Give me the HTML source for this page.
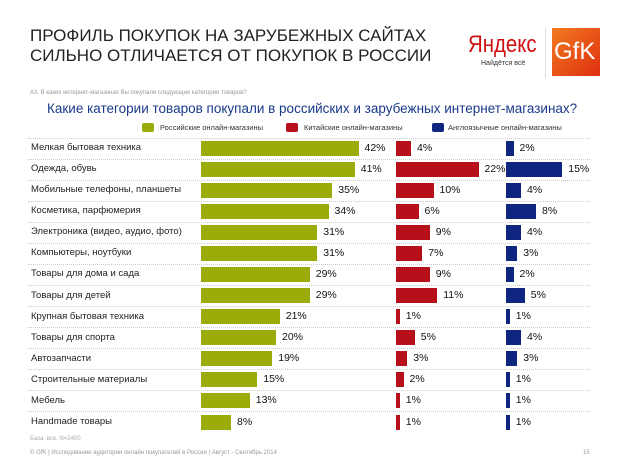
<!DOCTYPE html>
<html><head><meta charset="utf-8"><style>
body{margin:0;width:620px;height:467px;background:#fff;font-family:"Liberation Sans",sans-serif;position:relative;overflow:hidden}
.a{position:absolute;white-space:nowrap}
.t{font-size:17px;color:#222;left:30px}
.lab{font-size:9.5px;color:#222;left:31px}
.bar{position:absolute;height:15px}
.v{font-size:10.5px;color:#111;position:absolute}
.sep{position:absolute;left:28px;width:562px;border-top:1px dotted #ccc;height:0}
</style></head><body>
<div class="a t" style="top:26px">ПРОФИЛЬ ПОКУПОК НА ЗАРУБЕЖНЫХ САЙТАХ</div>
<div class="a t" style="top:46px">СИЛЬНО ОТЛИЧАЕТСЯ ОТ ПОКУПОК В РОССИИ</div>
<div class="a" style="left:468px;top:31px;font-size:24px;color:#d01010;transform:scaleX(0.85);transform-origin:left">Яндекс</div>
<div class="a" style="left:481px;top:60px;font-size:7px;color:#333">Найдётся всё</div>
<div class="a" style="left:545px;top:28px;width:1px;height:50px;background:#ddd"></div>
<div class="a" style="left:552px;top:28px;width:48px;height:48px;background:linear-gradient(135deg,#f07a20,#e03010)"></div>
<div class="a" style="left:554px;top:38px;font-size:24px;color:#fff">GfK</div>
<div class="a" style="left:30px;top:90px;font-size:6px;color:#999">А3. В каких интернет-магазинах Вы покупали следующие категории товаров?</div>
<div class="a" style="left:47px;top:101px;font-size:13.5px;color:#1a3a8a">Какие категории товаров покупали в российских и зарубежных интернет-магазинах?</div>
<div class="a" style="left:142px;top:123px;width:12px;height:9px;background:#9aab0a;border-radius:2px"></div>
<div class="a" style="left:160px;top:123px;font-size:7.5px;color:#333">Российские онлайн-магазины</div>
<div class="a" style="left:286px;top:123px;width:12px;height:9px;background:#b8101a;border-radius:2px"></div>
<div class="a" style="left:304px;top:123px;font-size:7.5px;color:#333">Китайские онлайн-магазины</div>
<div class="a" style="left:432px;top:123px;width:12px;height:9px;background:#0f2680;border-radius:2px"></div>
<div class="a" style="left:448px;top:123px;font-size:7.5px;color:#333">Англоязычные онлайн-магазины</div>
<div id="c"></div>
<div class="a" style="left:30px;top:436px;font-size:6px;color:#aaa">База: все, N=2400</div>
<div class="a" style="left:30px;top:450px;font-size:6px;color:#999">© GfK | Исследование аудитории онлайн покупателей в России | Август - Сентябрь 2014</div>
<div class="a" style="left:583px;top:450px;font-size:6px;color:#999">15</div>
<script>
var d=[["Мелкая бытовая техника",42,4,2],["Одежда, обувь",41,22,15],["Мобильные телефоны, планшеты",35,10,4],["Косметика, парфюмерия",34,6,8],["Электроника (видео, аудио, фото)",31,9,4],["Компьютеры, ноутбуки",31,7,3],["Товары для дома и сада",29,9,2],["Товары для детей",29,11,5],["Крупная бытовая техника",21,1,1],["Товары для спорта",20,5,4],["Автозапчасти",19,3,3],["Строительные материалы",15,2,1],["Мебель",13,1,1],["Handmade товары",8,1,1]];
var h="",k=3.75;
d.forEach(function(r,i){var c=148+i*21.08,t=c-7.5;
h+='<div class="a lab" style="top:'+(c-6)+'px">'+r[0]+'</div>';
if(i<13)h+='<div class="sep" style="top:'+(c+10.5)+'px"></div>';
if(i==0)h+='<div class="sep" style="top:'+(c-10.5)+'px"></div>';
var xs=[201,396,506],cols=["#9aab0a","#b8101a","#0f2680"];
for(var j=0;j<3;j++){var w=Math.max(r[j+1]*k,2.5);
h+='<div class="bar" style="left:'+xs[j]+'px;top:'+t+'px;width:'+w+'px;background:'+cols[j]+'"></div>';
h+='<div class="v" style="left:'+(xs[j]+w+6)+'px;top:'+(c-6.5)+'px">'+r[j+1]+'%</div>';}
});
document.getElementById("c").innerHTML=h;
</script>
</body></html>
